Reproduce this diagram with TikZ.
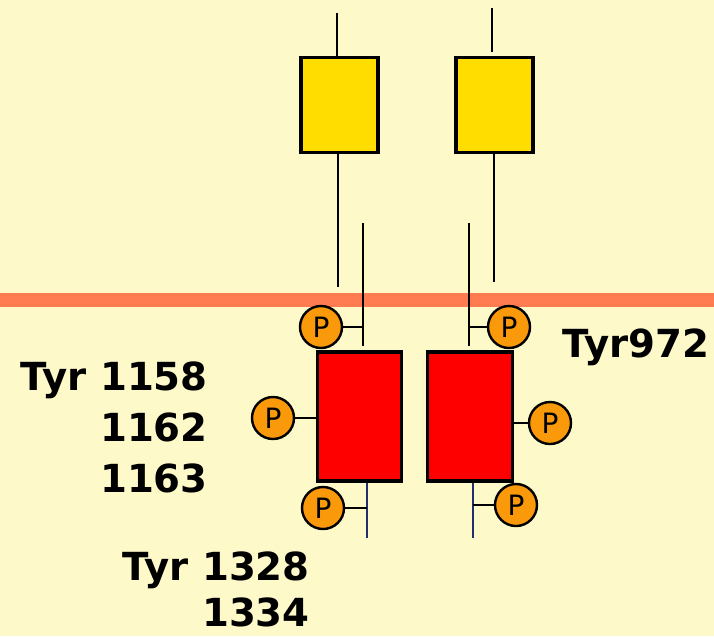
\documentclass[tikz,border=0pt]{standalone}
\usepackage{fontspec}
\setmainfont{DejaVu Sans}
\usepackage{tikz}
\usetikzlibrary{positioning, calc}
\definecolor{rtbg}{HTML}{FEF9C9}
\definecolor{rtmem}{HTML}{FF7B52}
\definecolor{rtecd}{HTML}{FFDD00}
\definecolor{rtkin}{HTML}{FF0000}
\definecolor{rtpho}{HTML}{FA9A0A}
\definecolor{rtnavy}{HTML}{1F2F6F}

\begin{document}
\begin{tikzpicture}[
  x=0.75pt, y=-0.75pt,
  ecd/.style={rectangle, draw=black, line width=2.4pt, fill=rtecd,
    minimum width=57.75pt, minimum height=71pt, inner sep=0pt},
  kinase/.style={rectangle, draw=black, line width=2.4pt, fill=rtkin,
    minimum width=63.5pt, minimum height=96.75pt, inner sep=0pt},
  phos/.style={circle, draw=black, line width=1.8pt, fill=rtpho,
    minimum size=31.5pt, inner sep=0pt,
    font=\fontsize{21}{21}\selectfont},
  stalk/.style={line width=1.9pt, color=black},
  tail/.style={line width=1.9pt, color=rtnavy},
  lbl/.style={inner sep=0pt, text depth=0pt,
    font=\fontsize{29}{29}\selectfont\bfseries}
]
  % background and membrane
  \fill[rtbg] (0,0) rectangle (714,636);
  \useasboundingbox (0,0) rectangle (714,636);
  \draw[rtmem, line width=10.5pt] (0,300) -- (714,300);

  % extracellular parts
  \node[ecd] (ecdA) at (339.5,105) {};
  \node[ecd] (ecdB) at (494.5,105) {};
  \coordinate (topA) at (337,13);
  \coordinate (topB) at (492,8);
  \coordinate (tmA) at (338,287);
  \coordinate (tmB) at (494,282);
  \draw[stalk] (topA) -- (topA |- ecdA.north);
  \draw[stalk] (topB) -- ($(topB |- ecdB.north)+(0,-4)$);
  \draw[stalk] (tmA |- ecdA.south) -- (tmA);
  \draw[stalk] (tmB |- ecdB.south) -- (tmB);

  % kinase domains
  \node[kinase] (kinA) at (359.5,416.5) {};
  \node[kinase] (kinB) at (470,416.5) {};
  \coordinate (jmA) at (363,223);
  \coordinate (jmB) at (469,223);
  \draw[stalk] (jmA) -- ($(jmA |- kinA.north)+(0,-4)$);
  \draw[stalk] (jmB) -- ($(jmB |- kinB.north)+(0,-4)$);
  \coordinate (ctA) at (367,538);
  \coordinate (ctB) at (473,538);
  \draw[tail] (ctA |- kinA.south) -- (ctA);
  \draw[tail] (ctB |- kinB.south) -- (ctB);

  % phosphates
  \node[phos] (pA) at (321,327) {P};
  \node[phos] (pB) at (509,327) {P};
  \node[phos] (pC) at (273,418) {P};
  \node[phos] (pD) at (550,423) {P};
  \node[phos] (pE) at (323,508) {P};
  \node[phos] (pF) at (516,505) {P};
  \draw[stalk] (pA.east) -- (pA -| jmA);
  \draw[stalk] (pB.west) -- (pB -| jmB);
  \draw[stalk] (pC.east) -- (pC -| kinA.west);
  \draw[stalk] (pD.west) -- (pD -| kinB.east);
  \draw[stalk] (pE.east) -- (pE -| ctA);
  \draw[stalk] (pF.west) -- (pF -| ctB);

  % residue labels
  \node[lbl, anchor=base east] (tyrA) at (208,390) {Tyr 1158};
  \node[lbl, anchor=base east] (tyrB) at (208,441) {1162};
  \node[lbl, anchor=base east] (tyrC) at (208,492) {1163};
  \node[lbl, anchor=base east] (tyrD) at (310,580) {Tyr 1328};
  \node[lbl, anchor=base east] (tyrE) at (310,626) {1334};
  \node[lbl, anchor=base west] (tyrF) at (562,357) {Tyr972};
\end{tikzpicture}
\end{document}
